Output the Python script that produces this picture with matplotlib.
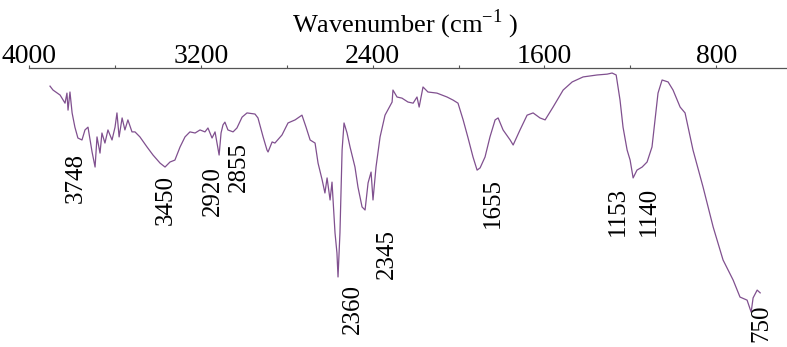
import matplotlib
matplotlib.use("Agg")
import matplotlib.pyplot as plt

plt.rcParams['font.family'] = ['Liberation Serif', 'DejaVu Serif']
plt.rcParams['mathtext.fontset'] = 'custom'
plt.rcParams['mathtext.rm'] = 'Liberation Serif'

# IR spectrum (wavenumber in cm-1, transmittance in %)
wavenumber = [3904, 3890, 3857, 3834, 3825, 3820, 3811, 3801, 3788, 3774,
              3755, 3741, 3727, 3708, 3694, 3685, 3671, 3662, 3648, 3634,
              3615, 3601, 3592, 3582, 3568, 3555, 3541, 3522, 3508, 3485,
              3452, 3424, 3391, 3368, 3345, 3322, 3298, 3275, 3252, 3228,
              3205, 3182, 3168, 3149, 3135, 3116, 3107, 3098, 3089, 3075,
              3051, 3033, 3009, 2986, 2949, 2935, 2911, 2893, 2888, 2869,
              2856, 2823, 2795, 2762, 2730, 2711, 2692, 2669, 2655, 2636,
              2623, 2613, 2599, 2590, 2576, 2567, 2562, 2553, 2543, 2534,
              2520, 2506, 2483, 2469, 2450, 2436, 2422, 2408, 2399, 2385,
              2366, 2343, 2310, 2306, 2287, 2264, 2236, 2212, 2194, 2184,
              2166, 2143, 2101, 2054, 2026, 2003, 1979, 1956, 1933, 1914,
              1900, 1877, 1854, 1830, 1816, 1793, 1760, 1746, 1714, 1681,
              1653, 1621, 1597, 1560, 1513, 1471, 1420, 1355, 1308, 1285,
              1266, 1248, 1234, 1215, 1201, 1187, 1169, 1145, 1122, 1099,
              1085, 1071, 1052, 1024, 1001, 968, 945, 908, 861, 814,
              768, 721, 689, 656, 637, 628, 609, 595]
transmittance = [93.5, 92.1, 90.3, 87.4, 91.0, 84.9, 91.4, 83.9, 78.8, 74.9,
                 74.2, 77.8, 78.8, 69.9, 64.5, 75.3, 69.5, 76.7, 73.1, 77.8,
                 74.2, 78.8, 83.9, 75.3, 82.1, 77.8, 81.4, 77.1, 77.1, 75.3,
                 71.7, 68.8, 65.9, 64.5, 66.3, 67.0, 71.7, 75.3, 77.1, 76.7,
                 77.8, 77.1, 78.5, 74.9, 77.1, 68.8, 76.7, 79.6, 80.6, 77.8,
                 77.1, 78.5, 82.4, 83.9, 83.5, 82.1, 75.3, 70.6, 69.9, 73.5,
                 73.1, 76.0, 80.3, 81.4, 83.1, 78.8, 74.2, 73.1, 65.9, 59.9,
                 55.2, 60.6, 52.7, 59.1, 40.9, 33.7, 25.1, 40.9, 70.6, 80.3,
                 76.7, 71.7, 64.5, 57.3, 50.2, 49.1, 58.8, 62.7, 52.7, 64.5,
                 75.3, 83.1, 87.8, 92.1, 89.6, 89.2, 87.8, 87.4, 89.6, 86.0,
                 93.2, 91.4, 91.0, 89.6, 88.5, 87.4, 81.4, 74.9, 68.1, 63.4,
                 64.2, 68.1, 75.3, 81.4, 82.1, 77.8, 74.2, 72.4, 77.8, 83.1,
                 83.9, 82.1, 81.4, 86.0, 92.1, 95.0, 96.8, 97.5, 97.8, 98.2,
                 97.5, 88.5, 78.8, 70.6, 67.0, 60.6, 63.4, 64.5, 66.3, 71.7,
                 81.4, 91.0, 95.7, 95.0, 92.1, 86.0, 83.9, 70.6, 57.3, 43.0,
                 31.2, 24.0, 17.9, 16.8, 12.5, 17.6, 20.4, 19.4]

# peak annotations: text, x position, y position
peak_labels = ['3748', '3450', '2920', '2855', '2360', '2345', '1655', '1153', '1140', '750']
peak_x = [3783, 3363, 3144, 3023, 2492, 2334, 1840, 1257, 1113, 591]
peak_y = [60.6, 52.7, 55.9, 64.5, 13.6, 33.3, 51.6, 48.7, 48.7, 8.6]

tick_values = [4000, 3200, 2400, 1600, 800]

fig = plt.figure(figsize=(7.87, 3.47), dpi=100)
ax = fig.add_axes([29.4 / 787, 0, 1 - 29.4 / 787, (347 - 68) / 347])

ax.plot(wavenumber, transmittance, color='#80508f', linewidth=0.9)

ax.set_xlim(4000, 470)
ax.set_ylim(0, 100)

for side in ['bottom', 'left', 'right']:
    ax.spines[side].set_visible(False)
ax.spines['top'].set_color('#555555')
ax.spines['top'].set_linewidth(0.9)

ax.xaxis.tick_top()
ax.set_xticks(tick_values)
ax.set_xticks(range(3600, 400, -800), minor=True)
ax.tick_params(axis='x', which='both', direction='out', length=2.5, width=0.8,
               colors='#555555', pad=-3, labelsize=20, labelcolor='black')
ax.set_yticks([])

for lab, px, py in zip(peak_labels, peak_x, peak_y):
    ax.text(px, py, lab, rotation=90, fontsize=18, ha='center', va='center',
            clip_on=False)

fig.text(405 / 787, 1 - 32 / 347, r'Wavenumber (cm$^{-1}$ )', fontsize=19,
         ha='center', va='baseline')

fig.savefig('out.png', dpi=100)
